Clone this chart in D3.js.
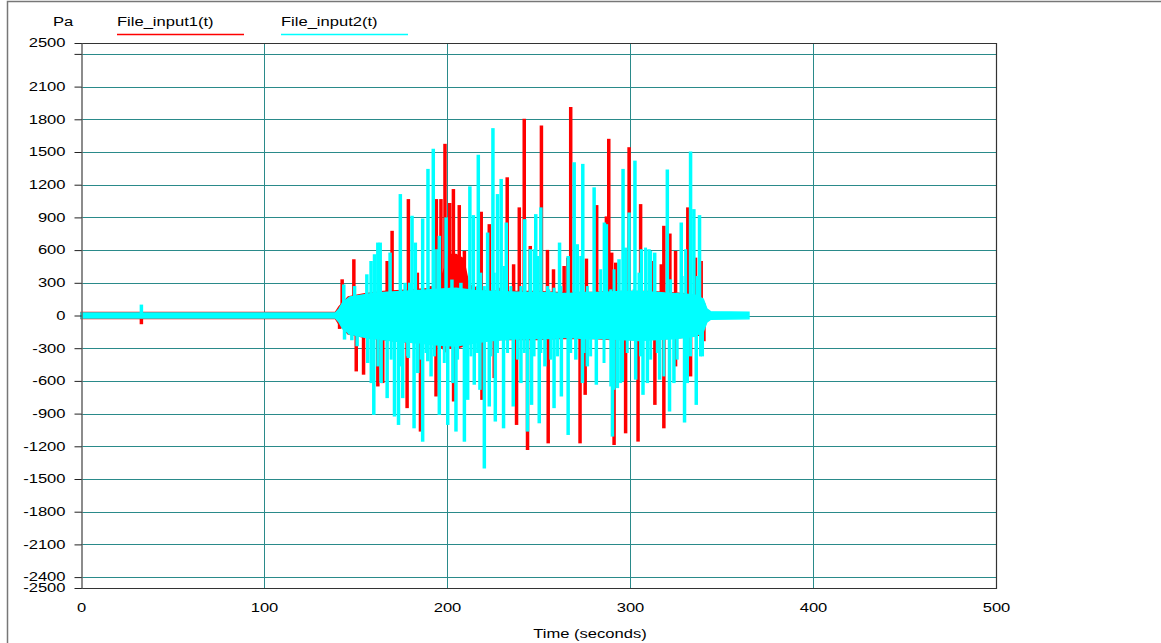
<!DOCTYPE html>
<html>
<head>
<meta charset="utf-8">
<script src="https://cdn.jsdelivr.net/npm/d3@7"></script>
<style>
	body { margin: 0; background: #fff; }
	svg { display: block; font-family: "Liberation Sans", Arial, sans-serif; }
</style>
</head>
<body>
<div id="chart"></div>
<script>
var timeTicks = [0, 100, 200, 300, 400, 500];
var paTicks = [2500, 2400, 2100, 1800, 1500, 1200, 900, 600, 300, 0, -300, -600, -900, -1200, -1500, -1800, -2100, -2400, -2500];
var paLabels = ['2500', '', '2100', '1800', '1500', '1200', '900', '600', '300', '0', '-300', '-600', '-900', '-1200', '-1500', '-1800', '-2100', '-2400', '-2500'];
var gridPa = [2400, 2100, 1800, 1500, 1200, 900, 600, 300, 0, -300, -600, -900, -1200, -1500, -1800, -2100, -2400];
var gridTime = [100, 200, 300, 400];
var seriesNames = ['File_input1(t)', 'File_input2(t)'];
var seriesColors = ['#ff0000', '#00ffff'];

// dense band of each signal (time, upper, lower)
var redBandT  = [0, 33, 139, 141, 146, 155, 165, 175, 185, 195, 199, 201, 205, 209, 212, 220, 230, 240, 250, 260, 270, 280, 290, 300, 310, 320, 330, 338, 341, 342];
var redBandHi = [28, 28, 28, 80, 170, 200, 220, 230, 240, 250, 450, 560, 560, 520, 280, 230, 220, 220, 220, 210, 210, 210, 220, 220, 220, 210, 200, 180, 100, 0];
var redBandLo = [-28, -28, -28, -80, -170, -200, -220, -240, -250, -270, -320, -300, -300, -280, -260, -230, -220, -220, -220, -210, -210, -210, -220, -220, -220, -210, -200, -180, -100, 0];

var cyanBandT  = [0, 139, 141, 143, 147, 155, 165, 175, 185, 195, 205, 215, 225, 235, 245, 255, 265, 275, 285, 295, 305, 315, 325, 335, 340, 342, 344, 365];
var cyanBandHi = [22, 22, 60, 120, 170, 190, 210, 220, 230, 240, 250, 230, 220, 215, 210, 210, 200, 210, 210, 220, 220, 210, 200, 190, 150, 60, 35, 30];
var cyanBandLo = [-22, -22, -60, -120, -170, -200, -220, -240, -250, -270, -280, -250, -230, -215, -210, -210, -200, -210, -210, -220, -230, -220, -210, -190, -150, -60, -35, -30];

// peaks [time, Pa]
var redSpikes = [
	[33, -80],
	[142.7, 332], [149.1, 516], [154.4, 132], [167.3, 500], [170, 777], [178.9, 1068], [183.8, 393], [187.8, 224],
	[191.3, 270], [194.2, 1068], [196.7, 1068], [198.9, 1575], [201.5, 1032], [203.5, 1160], [206.7, 1013], [209.5, 592],
	[210.7, 316], [218.7, 952], [223.1, 838], [228.4, 255], [232.9, 1268], [236.4, 470], [239.5, 992], [242.2, 1805],
	[245.5, 638], [251.6, 1744], [254.9, 602], [258.2, 424], [264, 454], [266, 531], [267.6, 1913], [276.2, 522],
	[281.8, 1013], [287.1, 909], [288.4, 1621], [290, 577], [292.2, 485], [299.5, 1544], [305.8, 1022], [312.2, 500],
	[317.1, 470], [318.5, 823], [321.8, 752], [324.9, 592], [331.6, 992], [335.8, 531], [338.9, 500],
	[141.3, -123], [150.4, -513], [154.4, -543], [162.2, -651], [164.9, -620], [178.2, -850], [185.5, -1065], [194, -743],
	[198.9, -338], [203.6, -789], [219.1, -774], [225.8, -574], [238, -1004], [244, -1234], [255.3, -1173], [272.7, -1173],
	[275.5, -728], [291.3, -1188], [297.6, -1081], [304.4, -1157], [313.6, -820], [318.5, -1035], [324.9, -467],
	[333.1, -559], [340.4, -236]
];

var cyanSpikes = [
	[33, 100],
	[143.6, 285], [146.7, 147], [149.5, 270], [156.2, 378], [158.5, 500], [160.4, 562], [162.2, 669], [163.5, 669],
	[168.9, 577], [174.5, 1114], [177.1, 300], [180.9, 915], [182.7, 669], [186.7, 890], [189.6, 1345], [192.5, 1529],
	[195.8, 731], [199.5, 900], [202.7, 330], [207.6, 300], [212.5, 1185], [214.4, 921], [217.1, 1474], [222.2, 761],
	[225.1, 1719], [227.6, 1114], [229.6, 1253], [232.4, 853], [237.8, 178], [242.5, 884], [245.5, 608], [248.5, 930],
	[251.3, 992], [255.5, 240], [261.5, 669], [266.2, 546], [269.5, 1406], [274.2, 1391], [280.4, 1176], [286, 853],
	[287.1, 838], [294, 516], [296.2, 1345], [299.5, 945], [302.7, 1421], [306.2, 608], [310.4, 608], [313.5, 577],
	[320.4, 1339], [328, 853], [333.1, 1504], [334.9, 976], [338, 921], [339.5, 147],
	[144, -221], [146.7, -175], [148, -227], [150.9, -282], [156.7, -436], [160, -912], [164, -620], [167.3, -758],
	[171.3, -927], [173.5, -1004], [175.8, -758], [178.9, -390], [182, -1035], [184, -528], [186.7, -1158], [189.5, -420],
	[191.3, -559], [195.8, -912], [200.4, -1004], [204.9, -1065], [209.5, -1158], [211.3, -774], [214.9, -635], [218, -682],
	[220.4, -1403], [223.1, -835], [226.4, -973], [230.9, -1035], [236.2, -835], [240.4, -620], [244, -1065], [246.2, -820],
	[250.4, -989], [253.5, -467], [258.5, -850], [262.5, -743], [266.2, -1096], [270.4, -405], [274, -620], [276.7, -467],
	[281.6, -635], [290.4, -1111], [293.1, -666], [295.8, -605], [303.1, -589], [307.1, -728], [309.5, -620], [316.2, -589],
	[321.6, -881], [324, -620], [329.8, -982], [331.3, -620], [336.2, -820], [339.5, -375]
];

// smaller bursts along the edge of the cyan band
var cyanRipple = [
	[151.3, 147], [155.8, 147], [164.9, 215], [167.6, 215], [173.1, 86], [179.5, 301], [185.8, 193], [193.1, 608],
	[194.9, 608], [202.2, 255], [204, 209], [207.6, 224], [216.7, 270], [218.5, 393], [220.4, 270], [225.8, 393],
	[231.3, 454], [234.9, 270], [240.4, 270], [247.6, 608], [249.5, 546], [254.9, 270], [258.5, 255], [262.2, 270],
	[264.9, 209], [271.3, 654], [273.1, 546], [276.7, 270], [282.2, 147], [284, 424], [289.5, 240], [291.3, 424],
	[297.6, 623], [302.2, 240], [304.9, 393], [308.5, 623], [311.3, 592], [314.9, 209], [322.2, 332], [325.8, 209],
	[328.5, 362], [330.4, 608], [336.7, 362],
	[153.1, -129], [158.5, -620], [162.2, -467], [169.5, -405], [174.9, -467], [178.5, -375], [185.8, -405], [188.5, -344],
	[193.1, -375], [198.5, -436], [203.1, -620], [205.8, -405], [213.1, -375], [216.7, -344], [224, -375], [227.6, -344],
	[233.1, -344], [238.5, -405], [242.2, -344], [247.6, -375], [251.3, -344], [256.7, -405], [260.4, -375], [267.6, -344],
	[274.9, -344], [278.5, -375], [285.8, -436], [289.5, -651], [291.3, -682], [294.9, -620], [298.5, -344], [305.8, -375],
	[311.3, -405], [314.9, -344], [318.5, -559], [325.8, -405], [333.1, -375], [338.5, -375]
];

var svgWidth = 1161,
	svgHeight = 643,
	stretch = 1.38,
	fontSize = '12px';

var x = d3.scaleLinear().domain([0, 500]).range([81, 996]);
var y = d3.scaleLinear().domain([-2500, 2500]).range([588, 43]);

var svg = d3.select('#chart')
	.append('svg')
	.attr('width', svgWidth)
	.attr('height', svgHeight);

// outer frame
svg.append('path')
	.attr('d', 'M7.5,643 V1.5 H1161')
	.attr('fill', 'none')
	.attr('stroke', '#777')
	.attr('stroke-width', 1.5);

// grid
var grid = svg.append('g').attr('shape-rendering', 'crispEdges');
grid.selectAll('.hgrid')
	.data(gridPa)
	.enter().append('line')
	.attr('x1', x(0)).attr('x2', x(500))
	.attr('y1', function(d) { return Math.round(y(d)) + 0.5; })
	.attr('y2', function(d) { return Math.round(y(d)) + 0.5; })
	.attr('stroke', '#2a8a8a');
grid.selectAll('.vgrid')
	.data(gridTime)
	.enter().append('line')
	.attr('y1', y(2500)).attr('y2', y(-2500))
	.attr('x1', function(d) { return Math.round(x(d)) + 0.5; })
	.attr('x2', function(d) { return Math.round(x(d)) + 0.5; })
	.attr('stroke', '#2a8a8a');

// signals
var plot = svg.append('g');

function drawSpikes(spikes, color, width) {
	plot.selectAll(null)
		.data(spikes)
		.enter().append('line')
		.attr('x1', function(d) { return x(d[0]); })
		.attr('x2', function(d) { return x(d[0]); })
		.attr('y1', y(0))
		.attr('y2', function(d) { return y(d[1]); })
		.attr('stroke', color)
		.attr('stroke-width', width);
}

function drawBand(bandT, bandHi, bandLo, color) {
	var band = d3.area()
		.x(function(d, i) { return x(bandT[i]); })
		.y0(function(d, i) { return y(bandLo[i]); })
		.y1(function(d, i) { return y(bandHi[i]); });
	plot.append('path')
		.attr('d', band(bandT))
		.attr('fill', color)
		.attr('stroke', color)
		.attr('stroke-width', 1.5);
}

drawBand(redBandT, redBandHi, redBandLo, seriesColors[0]);
drawSpikes(redSpikes, seriesColors[0], 3.5);
drawBand(cyanBandT, cyanBandHi, cyanBandLo, seriesColors[1]);
drawSpikes(cyanRipple, seriesColors[1], 3);
drawSpikes(cyanSpikes, seriesColors[1], 3.5);

// plot frame
svg.append('path')
	.attr('d', 'M81,43.5 H996.5 V588.5 H81')
	.attr('fill', 'none')
	.attr('stroke', '#333')
	.attr('stroke-width', 1.2);

// y axis
var yAxis = svg.append('g')
	.attr('transform', 'translate(81.5,0)')
	.call(d3.axisLeft(y)
		.tickValues(paTicks)
		.tickSize(7)
		.tickSizeOuter(0)
		.tickFormat(function(d, i) { return paLabels[i]; }));
yAxis.select('.domain').attr('stroke', '#666').attr('stroke-width', 1.5);
yAxis.selectAll('line').attr('stroke', '#222');
yAxis.selectAll('text')
	.attr('x', -16 / stretch)
	.attr('transform', 'scale(' + stretch + ',1)')
	.attr('font-size', fontSize)
	.attr('font-family', '"Liberation Sans", Arial, sans-serif')
	.attr('fill', '#000');

// x axis
var xAxis = svg.append('g')
	.attr('transform', 'translate(0,588)')
	.call(d3.axisBottom(x)
		.tickValues(timeTicks)
		.tickSize(0)
		.tickPadding(15)
		.tickFormat(d3.format('d')));
xAxis.select('.domain').remove();
xAxis.selectAll('text')
	.attr('transform', 'scale(' + stretch + ',1)')
	.attr('font-size', fontSize)
	.attr('font-family', '"Liberation Sans", Arial, sans-serif')
	.attr('fill', '#000');

function label(txt, tx, ty, anchor) {
	svg.append('text')
		.text(txt)
		.attr('transform', 'translate(' + tx + ',' + ty + ') scale(' + stretch + ',1)')
		.attr('text-anchor', anchor || 'start')
		.attr('font-size', fontSize)
		.attr('fill', '#000');
}

label('Pa', 53, 26);
label('Time (seconds)', 590, 638, 'middle');

// legend
var legendX = [117, 281];
seriesNames.forEach(function(name, i) {
	label(name, legendX[i], 26);
	svg.append('line')
		.attr('x1', legendX[i]).attr('x2', legendX[i] + 127)
		.attr('y1', 34.5).attr('y2', 34.5)
		.attr('stroke', seriesColors[i])
		.attr('stroke-width', 1.5);
});
</script>
</body>
</html>
